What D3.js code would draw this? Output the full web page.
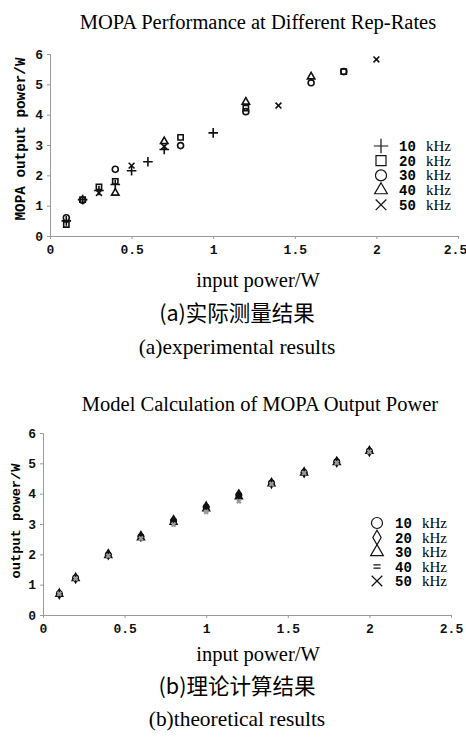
<!DOCTYPE html>
<html>
<head>
<meta charset="UTF-8">
<title>MOPA</title>
<script src="https://cdn.jsdelivr.net/npm/d3@7"></script>
<style>
  body{margin:0;background:#fff;}
  svg{display:block;}
  .serif{font-family:"Liberation Serif","DejaVu Serif",serif;}
  .cjk{font-family:"Noto Sans CJK SC",sans-serif;}
  .mono{font-family:"Liberation Mono","DejaVu Sans Mono",monospace;font-weight:bold;}
</style>
</head>
<body>
<script>
// ---- data ----
var xTicks = [0, 0.5, 1, 1.5, 2, 2.5];
var yTicks = [0, 1, 2, 3, 4, 5, 6];
var legendRates = ["10", "20", "30", "40", "50"];

// (a) measured, [input, output]
var measured10 = [[0.1,0.5],[0.2,1.2],[0.3,1.5],[0.4,1.7],[0.5,2.15],[0.6,2.45],[0.7,2.85],[1.0,3.4]];
var measured20 = [[0.1,0.38],[0.2,1.2],[0.3,1.62],[0.4,1.8],[0.8,3.25],[1.2,4.22],[1.8,5.42]];
var measured30 = [[0.1,0.6],[0.2,1.18],[0.4,2.2],[0.8,2.98],[1.2,4.1],[1.6,5.05],[1.8,5.42]];
var measured40 = [[0.4,1.42],[0.7,3.12],[1.2,4.42],[1.6,5.25]];
var measured50 = [[0.3,1.42],[0.5,2.32],[0.7,2.95],[1.4,4.3],[2.0,5.82]];

// (b) model
var modelInput = [0.1,0.2,0.4,0.6,0.8,1.0,1.2,1.4,1.6,1.8,2.0];
var model10 = [0.7,1.22,1.98,2.58,3.1,3.55,3.95,4.35,4.7,5.05,5.4];
var model20 = [0.7,1.22,2.0,2.6,3.12,3.57,3.97,4.35,4.7,5.05,5.4];
var model30 = [0.68,1.2,1.96,2.55,3.06,3.5,3.9,4.33,4.68,5.03,5.4];
var model40 = [0.7,1.22,1.98,2.56,3.08,3.52,3.92,4.35,4.7,5.05,5.4];
var model50 = [0.7,1.2,1.95,2.52,2.98,3.4,3.75,4.32,4.68,5.02,5.38];

// "=" mark used for 40 kHz in the model plot
var symbolEqual = {
  draw: function(ctx, size){
    var w = Math.sqrt(size) * 0.5, g = w * 0.45;
    ctx.moveTo(-w, -g); ctx.lineTo(w, -g);
    ctx.moveTo(-w, g); ctx.lineTo(w, g);
  }
};

var svg = d3.select("body").append("svg")
  .attr("width", 466).attr("height", 753);

function drawPanel(opt){
  var x = d3.scaleLinear().domain([0, 2.5]).range([opt.left, opt.right]);
  var y = d3.scaleLinear().domain([0, 6]).range([opt.bottom, opt.top]);
  var g = svg.append("g");

  var xAxis = g.append("g")
    .attr("transform", "translate(0," + opt.bottom + ")")
    .call(d3.axisBottom(x).tickValues(xTicks).tickSizeInner(3).tickSizeOuter(3).tickPadding(3)
      .tickFormat(d3.format("")));
  var yAxis = g.append("g")
    .attr("transform", "translate(" + opt.left + ",0)")
    .call(d3.axisLeft(y).tickValues(yTicks).tickSizeInner(3).tickSizeOuter(3).tickPadding(4)
      .tickFormat(d3.format("")));
  [xAxis, yAxis].forEach(function(a){
    a.selectAll("path,line").attr("stroke", "#9a9a9a").attr("stroke-width", 1);
    a.selectAll("text").attr("class", "mono").attr("font-size", 13).attr("fill", "#111");
  });
  xAxis.selectAll("text").attr("dy", "0.9em");
  xAxis.selectAll(".tick").filter(function(d){ return d === 2.5; })
    .select("text").attr("dx", opt.lastDx);

  // markers
  opt.series.forEach(function(s){
    g.append("g").selectAll("path")
      .data(s.values).enter().append("path")
      .attr("transform", function(d){ return "translate(" + x(d[0]) + "," + y(d[1]) + ")"; })
      .attr("d", d3.symbol().type(s.type).size(s.size || opt.markSize))
      .attr("fill", s.fill || "none")
      .attr("stroke", s.color || "#111")
      .attr("stroke-width", opt.markStroke);
  });

  // legend
  var lg = g.append("g");
  opt.series.forEach(function(s, i){
    var ly = opt.legendY + i * opt.legendStep;
    lg.append("path")
      .attr("transform", "translate(" + opt.legendX + "," + ly + ")")
      .attr("d", d3.symbol().type(s.type).size(s.legendSize || 90))
      .attr("fill", "none").attr("stroke", "#111").attr("stroke-width", 1.2);
    lg.append("text").attr("class", "mono").attr("font-size", 14)
      .attr("x", opt.legendX + 18).attr("y", ly + 5).text(legendRates[i]);
    lg.append("text").attr("class", "serif").attr("font-size", 15)
      .attr("x", opt.legendX + 45).attr("y", ly + 5).text("kHz");
  });

  // titles
  g.append("text").attr("class", "serif").attr("font-size", 20.5)
    .attr("x", opt.titleX).attr("y", opt.titleY).attr("text-anchor", "middle").text(opt.title);
  g.append("text").attr("class", "mono").attr("font-size", opt.ylabSize)
    .attr("transform", "translate(" + opt.ylabX + "," + opt.ylabY + ") rotate(-90)")
    .attr("text-anchor", "middle").text(opt.ylabel);
  g.append("text").attr("class", "serif").attr("font-size", 20.5)
    .attr("x", 258).attr("y", opt.xlabY).attr("text-anchor", "middle").text("input power/W");
  g.append("text").attr("class", "cjk").attr("font-size", 21.5)
    .attr("x", 237).attr("y", opt.cnY).attr("text-anchor", "middle").text(opt.cnCaption);
  g.append("text").attr("class", "serif").attr("font-size", 21.4)
    .attr("x", 237).attr("y", opt.enY).attr("text-anchor", "middle").text(opt.enCaption);
}

function pairs(xs, ys){ return xs.map(function(v, i){ return [v, ys[i]]; }); }

drawPanel({
  left: 50, right: 458, top: 54, bottom: 236, lastDx: -3,
  markSize: 28, markStroke: 1.6,
  legendX: 381, legendY: 146, legendStep: 14.7,
  series: [
    {type: d3.symbolPlus, values: measured10, size: 32, legendSize: 70},
    {type: d3.symbolSquare, values: measured20, legendSize: 100},
    {type: d3.symbolCircle, values: measured30, legendSize: 95},
    {type: d3.symbolTriangle, values: measured40, size: 24, legendSize: 70},
    {type: d3.symbolX, values: measured50, size: 24, legendSize: 75}
  ],
  title: "MOPA Performance at Different Rep-Rates", titleX: 258, titleY: 29,
  ylabel: "MOPA output power/W", ylabSize: 14.3, ylabX: 25, ylabY: 139,
  xlabY: 287, cnY: 321, cnCaption: "(a)实际测量结果",
  enY: 354, enCaption: "(a)experimental results"
});

drawPanel({
  left: 43, right: 451, top: 433, bottom: 615, lastDx: 0,
  markSize: 18, markStroke: 2.2,
  legendX: 377, legendY: 523, legendStep: 14.5,
  series: [
    {type: d3.symbolCircle, values: pairs(modelInput, model10), fill: "#111", legendSize: 95},
    {type: d3.symbolDiamond, values: pairs(modelInput, model20), fill: "#111", legendSize: 60},
    {type: d3.symbolTriangle, values: pairs(modelInput, model30), size: 14, legendSize: 70},
    {type: symbolEqual, values: pairs(modelInput, model40), legendSize: 50},
    {type: d3.symbolX, values: pairs(modelInput, model50), color: "#999", size: 12, legendSize: 75}
  ],
  title: "Model Calculation of MOPA Output Power", titleX: 260, titleY: 411,
  ylabel: "output power/W", ylabSize: 13.7, ylabX: 20, ylabY: 521,
  xlabY: 661, cnY: 694, cnCaption: "(b)理论计算结果",
  enY: 726, enCaption: "(b)theoretical results"
});
</script>
</body>
</html>
